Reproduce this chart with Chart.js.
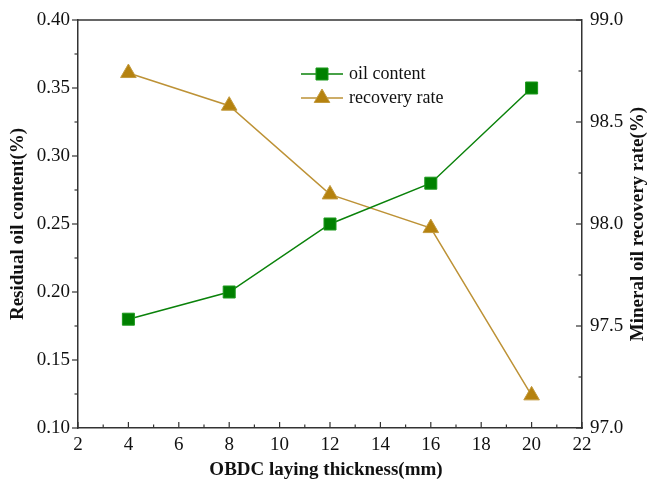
<!DOCTYPE html>
<html><head><meta charset="utf-8">
<script src="https://cdn.jsdelivr.net/npm/chart.js@4.4.0/dist/chart.umd.min.js"></script>
<style>html,body{margin:0;padding:0;background:#fff}#wrap{width:651px;height:488px}</style>
</head><body><div id="wrap"><canvas id="c" width="651" height="488"></canvas></div>
<script>
const thickness = [4, 8, 12, 16, 20];
const oilContent = [0.18, 0.20, 0.25, 0.28, 0.35];
const recoveryRate = [98.74, 98.58, 98.145, 97.98, 97.16];
const seriesLabels = ['oil content', 'recovery rate'];
const xTitle = 'OBDC laying thickness(mm)';
const leftTitle = 'Residual oil content(%)';
const rightTitle = 'Mineral oil recovery rate(%)';

const GREEN = '#0a820a';
const GOLD = '#b5820f';
const GOLD_LINE = '#bd9236';
const AXIS = '#333333';
const SERIF = '"Liberation Serif", "Times New Roman", serif';

const framePlugin = {
  id: 'frame',
  afterDraw(chart) {
    const ctx = chart.ctx, a = chart.chartArea;
    const sx = chart.scales.x, sy = chart.scales.y, sy2 = chart.scales.y2;
    ctx.save();
    ctx.strokeStyle = AXIS; ctx.lineWidth = 1.5;
    ctx.beginPath(); ctx.moveTo(a.left, a.top); ctx.lineTo(a.right, a.top); ctx.stroke();
    ctx.lineWidth = 1.2;
    const majLen = 6, minLen = 3.5;
    // x ticks inward (up)
    for (let v = sx.min; v <= sx.max + 1e-9; v += 1) {
      const p = sx.getPixelForValue(v);
      const len = (Math.round(v) % 2 === 0) ? majLen : minLen;
      ctx.beginPath(); ctx.moveTo(p, a.bottom); ctx.lineTo(p, a.bottom - len); ctx.stroke();
    }
    // left ticks outward
    for (let i = 0; i <= 12; i++) {
      const v = sy.min + i * 0.025;
      const p = sy.getPixelForValue(v);
      const len = (i % 2 === 0) ? majLen : minLen;
      ctx.beginPath(); ctx.moveTo(a.left, p); ctx.lineTo(a.left - len, p); ctx.stroke();
    }
    // right ticks inward
    for (let i = 0; i <= 8; i++) {
      const v = sy2.min + i * 0.25;
      const p = sy2.getPixelForValue(v);
      const len = (i % 2 === 0) ? majLen : minLen;
      ctx.beginPath(); ctx.moveTo(a.right, p); ctx.lineTo(a.right - len, p); ctx.stroke();
    }
    // titles
    ctx.fillStyle = '#111';
    ctx.font = 'bold 19px ' + SERIF;
    ctx.textAlign = 'center'; ctx.textBaseline = 'middle';
    ctx.fillText(xTitle, (a.left + a.right) / 2 - 4, 470);
    ctx.save(); ctx.translate(18, (a.top + a.bottom) / 2); ctx.rotate(-Math.PI / 2);
    ctx.fillText(leftTitle, 0, 0); ctx.restore();
    ctx.save(); ctx.translate(638, (a.top + a.bottom) / 2); ctx.rotate(-Math.PI / 2);
    ctx.fillText(rightTitle, 0, 0); ctx.restore();
    // legend
    const rows = [74, 98];
    chart.data.datasets.forEach((ds, i) => {
      const y = rows[i];
      ctx.strokeStyle = ds.borderColor; ctx.lineWidth = 1.5;
      ctx.beginPath(); ctx.moveTo(301, y); ctx.lineTo(343, y); ctx.stroke();
      ctx.fillStyle = ds.pointBackgroundColor; ctx.strokeStyle = ds.pointBorderColor;
      ctx.beginPath();
      if (ds.pointStyle === 'rect') { const s = ds.pointRadius * Math.SQRT1_2; ctx.rect(322 - s, y - s, 2 * s, 2 * s); }
      else { const r = ds.pointRadius; ctx.moveTo(322, y - r); ctx.lineTo(322 + r * Math.sin(2*Math.PI/3), y - r * Math.cos(2*Math.PI/3)); ctx.lineTo(322 + r * Math.sin(4*Math.PI/3), y - r * Math.cos(4*Math.PI/3)); ctx.closePath(); }
      ctx.fill(); ctx.lineWidth = 1; ctx.stroke();
      ctx.fillStyle = '#111'; ctx.font = '18px ' + SERIF; ctx.textAlign = 'left'; ctx.textBaseline = 'middle';
      ctx.fillText(ds.label, 349, y);
    });
    ctx.restore();
  }
};

new Chart(document.getElementById('c'), {
  type: 'line',
  data: {
    datasets: [
      { label: seriesLabels[0], data: thickness.map((x, i) => ({x, y: oilContent[i]})), yAxisID: 'y',
        borderColor: GREEN, borderWidth: 1.5, pointStyle: 'rect', pointRadius: 8.5, pointHoverRadius: 8.5,
        pointBackgroundColor: '#008000', pointBorderColor: '#1d9a1d', pointBorderWidth: 1, tension: 0 },
      { label: seriesLabels[1], data: thickness.map((x, i) => ({x, y: recoveryRate[i]})), yAxisID: 'y2',
        borderColor: GOLD_LINE, borderWidth: 1.5, pointStyle: 'triangle', pointRadius: 9, pointHoverRadius: 9,
        pointBackgroundColor: GOLD, pointBorderColor: '#c39a3e', pointBorderWidth: 1, tension: 0 }
    ]
  },
  options: {
    responsive: false, animation: false, devicePixelRatio: 1,
    layout: { padding: { top: 20, left: 0, right: 0, bottom: 0 } },
    plugins: { legend: { display: false }, tooltip: { enabled: false } },
    scales: {
      x: { type: 'linear', min: 2, max: 22,
        afterFit(s) { s.height = 60; },
        ticks: { stepSize: 2, padding: 6, color: '#111', font: { family: SERIF, size: 19 } },
        grid: { display: false, drawTicks: false },
        border: { display: true, color: AXIS, width: 1.5 } },
      y: { type: 'linear', position: 'left', min: 0.1, max: 0.4,
        afterFit(s) { s.width = 78; },
        ticks: { stepSize: 0.05, padding: 8, color: '#111', font: { family: SERIF, size: 19 }, callback: v => v.toFixed(2) },
        grid: { display: false, drawTicks: false },
        border: { display: true, color: AXIS, width: 1.5 } },
      y2: { type: 'linear', position: 'right', min: 97, max: 99,
        afterFit(s) { s.width = 69; },
        ticks: { stepSize: 0.5, padding: 8, color: '#111', font: { family: SERIF, size: 19 }, callback: v => v.toFixed(1) },
        grid: { display: false, drawTicks: false },
        border: { display: true, color: AXIS, width: 1.5 } }
    }
  },
  plugins: [framePlugin]
});
</script></body></html>
